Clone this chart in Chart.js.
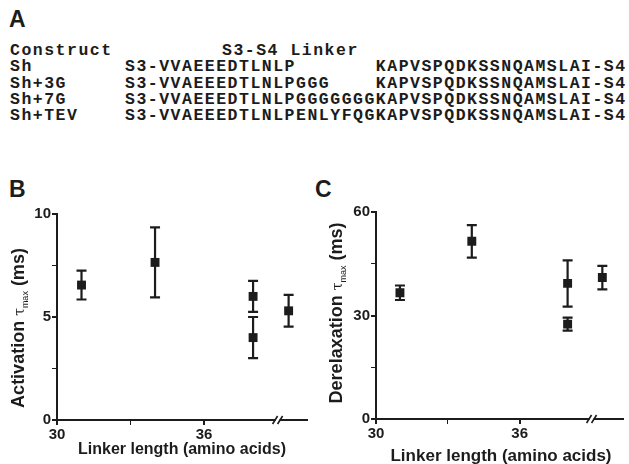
<!DOCTYPE html>
<html>
<head>
<meta charset="utf-8">
<script src="https://cdn.jsdelivr.net/npm/chart.js@4.4.1/dist/chart.umd.min.js"></script>
<style>
  body { margin: 0; width: 629px; height: 464px; background: #fff; position: relative; overflow: hidden; color: #1c1c1c; }
  .panel { position: absolute; font-family: 'Liberation Sans', Arial, sans-serif; font-weight: bold; font-size: 23px; line-height: 26px; }
  .seq { position: absolute; font-family: 'Liberation Mono', monospace; font-weight: bold; font-size: 16.5px; letter-spacing: 1.5px; white-space: pre; line-height: 16px; }
  canvas { position: absolute; }
</style>
</head>
<body>
<div class="panel" style="left:9px; top:6px;">A</div>
<div id="table"></div>
<div class="panel" style="left:9px; top:176px;">B</div>
<div class="panel" style="left:315px; top:176px;">C</div>
<canvas id="chartB" width="315" height="284" style="left:0; top:180px;"></canvas>
<canvas id="chartC" width="314" height="284" style="left:315px; top:180px;"></canvas>

<script>
// Panel A: sequence table
const tableHeader = ['Construct', 'S3-S4 Linker'];
const constructs = ['Sh', 'Sh+3G', 'Sh+7G', 'Sh+TEV'];
const linkers = [
    'S3-VVAEEEDTLNLP       KAPVSPQDKSSNQAMSLAI-S4',
    'S3-VVAEEEDTLNLPGGG    KAPVSPQDKSSNQAMSLAI-S4',
    'S3-VVAEEEDTLNLPGGGGGGGKAPVSPQDKSSNQAMSLAI-S4',
    'S3-VVAEEEDTLNLPENLYFQGKAPVSPQDKSSNQAMSLAI-S4'
];

// Panels B and C: linker length vs tau max (mean, error)
const linkerLength = [31, 34, 38, 38, 39.45];
const activationTau = [6.55, 7.65, 6.0, 4.0, 5.3];
const activationErr = [0.7, 1.7, 0.75, 1.0, 0.77];
const derelaxTau = [36.6, 51.5, 39.3, 27.5, 41.0];
const derelaxErr = [2.1, 4.7, 6.7, 1.9, 3.4];

const xTicks = [30, 33, 36];
const xTickLabels = ['30', '', '36'];
const activationTicks = [0, 2.5, 5, 7.5, 10];
const activationTickLabels = ['0', '', '5', '', '10'];
const derelaxTicks = [0, 15, 30, 45, 60];
const derelaxTickLabels = ['0', '', '30', '', '60'];
const axisBreakAt = 39;

const FG = '#1c1c1c';
const SANS = "'Liberation Sans', Arial, sans-serif";

// build the table rows
const table = document.getElementById('table');
function addText(text, left, top) {
    const d = document.createElement('div');
    d.className = 'seq';
    d.style.left = left + 'px';
    d.style.top = top + 'px';
    d.textContent = text;
    table.appendChild(d);
}
const rowTop = 43, rowStep = 16.3;
addText(tableHeader[0], 10, rowTop);
addText(tableHeader[1], 222, rowTop);
constructs.forEach((c, i) => {
    addText(c, 10, rowTop + rowStep * (i + 1));
    addText(linkers[i], 125, rowTop + rowStep * (i + 1));
});

// error bars drawn under the squares
const errorBars = {
    id: 'errorBars',
    beforeDatasetsDraw(chart) {
        const { ctx, scales: { x, y } } = chart;
        chart.data.datasets.forEach(ds => {
            ds.data.forEach((p, i) => {
                const e = ds.errors[i];
                const px = x.getPixelForValue(p.x);
                const top = y.getPixelForValue(p.y + e);
                const bot = y.getPixelForValue(p.y - e);
                ctx.save();
                ctx.strokeStyle = FG;
                ctx.lineWidth = 2.2;
                ctx.beginPath();
                ctx.moveTo(px, top); ctx.lineTo(px, bot);
                ctx.moveTo(px - 5, top); ctx.lineTo(px + 5, top);
                ctx.moveTo(px - 5, bot); ctx.lineTo(px + 5, bot);
                ctx.stroke();
                ctx.restore();
            });
        });
    }
};

// "//" break on the x axis
const axisBreak = {
    id: 'axisBreak',
    afterDraw(chart) {
        const { ctx, chartArea } = chart;
        const px = chart.scales.x.getPixelForValue(axisBreakAt);
        const py = chartArea.bottom;
        ctx.save();
        ctx.fillStyle = '#fff';
        ctx.fillRect(px - 2, py - 2, 4, 4);
        ctx.strokeStyle = FG;
        ctx.lineWidth = 1.6;
        ctx.beginPath();
        [-2.5, 2.5].forEach(d => {
            ctx.moveTo(px + d - 2.5, py + 4);
            ctx.lineTo(px + d + 2.5, py - 4);
        });
        ctx.stroke();
        ctx.restore();
    }
};

// axis titles (y title has tau with subscript "max")
const axisTitles = {
    id: 'axisTitles',
    afterDraw(chart, args, o) {
        const ctx = chart.ctx;
        ctx.save();
        ctx.fillStyle = FG;
        ctx.textBaseline = 'alphabetic';
        // x title
        ctx.font = `bold ${o.xSize}px ${SANS}`;
        ctx.textAlign = 'center';
        ctx.fillText(o.xText, o.xX, o.xY);
        // y title, rotated
        ctx.translate(o.yX, o.yY);
        ctx.rotate(-Math.PI / 2);
        ctx.textAlign = 'left';
        const parts = [
            { t: o.yText[0], f: `bold ${o.ySize}px ${SANS}`, dy: 0 },
            { t: '\u03c4', f: `14px 'DejaVu Serif', serif`, dy: 0 },
            { t: 'max', f: `9px ${SANS}`, dy: 4 },
            { t: o.yText[1], f: `bold ${o.ySize}px ${SANS}`, dy: 0 }
        ];
        let total = 0;
        parts.forEach(p => { ctx.font = p.f; p.w = ctx.measureText(p.t).width; total += p.w; });
        let cx = -total / 2;
        parts.forEach(p => {
            ctx.font = p.f;
            ctx.fillText(p.t, cx, 6 + p.dy);
            cx += p.w;
        });
        ctx.restore();
    }
};

function makeChart(id, cfg) {
    return new Chart(document.getElementById(id), {
        type: 'scatter',
        data: {
            datasets: [{
                data: linkerLength.map((x, i) => ({ x: x, y: cfg.values[i] })),
                errors: cfg.errors,
                pointStyle: 'rect',
                pointRadius: 6.3,
                pointHoverRadius: 6.3,
                backgroundColor: FG,
                borderWidth: 0
            }]
        },
        options: {
            responsive: false,
            animation: false,
            layout: { padding: { top: cfg.padTop, right: cfg.padRight, left: 0, bottom: 0 } },
            plugins: {
                legend: { display: false },
                tooltip: { enabled: false },
                axisTitles: cfg.titles
            },
            scales: {
                x: {
                    type: 'linear',
                    min: 30,
                    max: cfg.xMax,
                    afterBuildTicks: s => { s.ticks = xTicks.map(v => ({ value: v })); },
                    afterFit: s => { s.height = cfg.xHeight; },
                    ticks: {
                        autoSkip: false,
                        maxRotation: 0,
                        padding: 1,
                        color: FG,
                        font: { family: SANS, size: 15, weight: 'bold' },
                        callback: v => xTickLabels[xTicks.indexOf(v)]
                    },
                    grid: {
                        drawOnChartArea: false,
                        tickLength: 5,
                        color: FG,
                        lineWidth: c => (c.tick && xTickLabels[xTicks.indexOf(c.tick.value)] === '') ? 1 : 2
                    },
                    border: { color: FG, width: 2 }
                },
                y: {
                    min: 0,
                    max: cfg.yTicks[cfg.yTicks.length - 1],
                    afterBuildTicks: s => { s.ticks = cfg.yTicks.map(v => ({ value: v })); },
                    afterFit: s => { s.width = cfg.yWidth; },
                    ticks: {
                        autoSkip: false,
                        padding: 1,
                        color: FG,
                        font: { family: SANS, size: 15, weight: 'bold' },
                        callback: v => cfg.yLabels[cfg.yTicks.indexOf(v)]
                    },
                    grid: {
                        drawOnChartArea: false,
                        tickLength: 5,
                        color: FG,
                        lineWidth: c => (c.tick && cfg.yLabels[cfg.yTicks.indexOf(c.tick.value)] === '') ? 1 : 2
                    },
                    border: { color: FG, width: 2 }
                }
            }
        },
        plugins: [errorBars, axisBreak, axisTitles]
    });
}

makeChart('chartB', {
    values: activationTau,
    errors: activationErr,
    yTicks: activationTicks,
    yLabels: activationTickLabels,
    xMax: 40.2,
    padTop: 34,
    padRight: 8,
    yWidth: 57,
    xHeight: 44,
    titles: { xText: 'Linker length (amino acids)', xSize: 16, xX: 182, xY: 274,
              yText: ['Activation ', ' (ms)'], ySize: 18, yX: 18, yY: 148 }
});

makeChart('chartC', {
    values: derelaxTau,
    errors: derelaxErr,
    yTicks: derelaxTicks,
    yLabels: derelaxTickLabels,
    xMax: 40.3,
    padTop: 32,
    padRight: 0,
    yWidth: 61,
    xHeight: 45,
    titles: { xText: 'Linker length (amino acids)', xSize: 17, xX: 186, xY: 281,
              yText: ['Derelaxation ', ' (ms)'], ySize: 18, yX: 21, yY: 133 }
});
</script>
</body>
</html>
